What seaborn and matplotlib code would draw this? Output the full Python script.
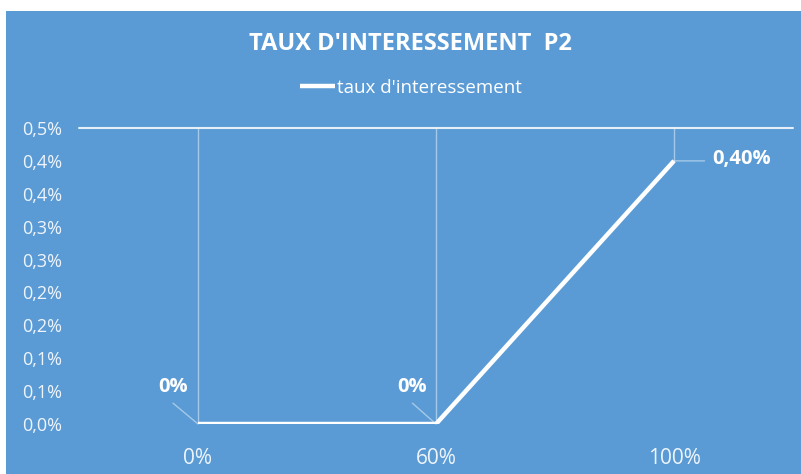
import numpy as np
import pandas as pd
import matplotlib
matplotlib.use('Agg')
import matplotlib.pyplot as plt
import seaborn as sns
from matplotlib.patches import Rectangle

# Données
paliers = ['0%', '60%', '100%']
taux = [0.0, 0.0, 0.004]
titre = "TAUX D'INTERESSEMENT  P2"
nom_serie = "taux d'interessement"

df = pd.DataFrame({'palier': paliers, 'taux': taux})

bleu = '#5B9BD5'
sns.set_style('white')
plt.rcParams['font.family'] = ['Open Sans', 'DejaVu Sans']

fig = plt.figure(figsize=(8.01, 4.74), dpi=100)
fig.patch.set_facecolor('white')
# Fond bleu du graphique (léger bord blanc en haut et à gauche)
fond = Rectangle((6 / 801, 0), 1, 1 - 11 / 474, transform=fig.transFigure,
                 facecolor=bleu, edgecolor='none', zorder=-10)
fig.add_artist(fond)

ax = fig.add_axes([79 / 801, 1 - 424 / 474, (793 - 79) / 801, (424 - 128) / 474])
ax.set_facecolor('none')
ax.set_zorder(1)

ymax = 0.0045
sns.lineplot(data=df, x='palier', y='taux', ax=ax, color='white', linewidth=3.2,
             sort=False, label=nom_serie, zorder=5, solid_capstyle='butt')

ax.set_xlim(-0.5, 2.5)
ax.set_ylim(0, ymax)

# Lignes verticales et ligne du haut
pos = np.arange(len(paliers))
ax.vlines(pos, taux, ymax, color='white', alpha=0.45, linewidth=1, zorder=2)
ax.axhline(ymax, color='white', alpha=0.85, linewidth=1.5, zorder=3, clip_on=False)

# Axes
for s in ax.spines.values():
    s.set_visible(False)
yt = np.arange(0, ymax + 1e-9, 0.0005)
ax.set_yticks(yt)
ax.set_yticklabels([f"{v * 100 + 1e-9:.1f}".replace('.', ',') + '%' for v in yt])
ax.tick_params(axis='y', length=0, pad=12, labelsize=13, labelcolor='white')
ax.tick_params(axis='x', length=0, pad=17, labelsize=15, labelcolor='white')
for t in ax.get_yticklabels() + ax.get_xticklabels():
    t.set_alpha(0.9)
ax.set_xlabel('')
ax.set_ylabel('')

# Étiquettes de données (décalages en points)
def fmt(v):
    return '0%' if v == 0 else f"{v * 100:.2f}".replace('.', ',') + '%'

decal = [(-18, 27), (-17, 27), (49, 1)]
bouts = [(-18, 15), (-17, 15), (22, 0)]
for i, v in enumerate(taux):
    ax.annotate(fmt(v), xy=(i, v), xytext=decal[i], textcoords='offset points',
                color='white', fontsize=14.5, fontweight='bold', ha='center', va='center',
                zorder=6, annotation_clip=False)
    ax.annotate('', xy=(i, v), xytext=bouts[i], textcoords='offset points',
                arrowprops=dict(arrowstyle='-', color='white', alpha=0.45, lw=1,
                                shrinkA=0, shrinkB=0), annotation_clip=False)

# Titre et légende
fig.text(410 / 801, 1 - 44 / 474, titre, color='white', fontsize=17, fontweight='bold',
         ha='center', va='center')
leg = ax.legend(loc='center', bbox_to_anchor=(411 / 801, 1 - 88 / 474),
                bbox_transform=fig.transFigure, frameon=False, fontsize=13.5,
                handlelength=1.9, handletextpad=0.1)
for t in leg.get_texts():
    t.set_color('white')

fig.savefig('out.png', dpi=100, facecolor=fig.get_facecolor())
